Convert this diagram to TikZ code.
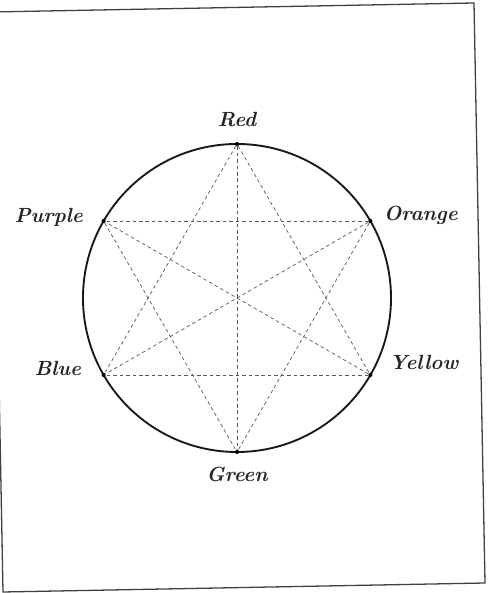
\documentclass[tikz,border=0pt]{standalone}
\usetikzlibrary{positioning}
\begin{document}
\begin{tikzpicture}[x=0.03cm, y=0.03cm,
    rim/.style={black!90, line width=1.6pt},
    chord/.style={black!65, line width=0.6pt, dash pattern=on 3pt off 2.5pt},
    hue/.style={font=\fontsize{17.5}{20}\selectfont\bfseries\itshape, text=black!85, inner sep=0pt},
    dot/.style={circle, fill=black, inner sep=0pt, minimum size=3.5pt}]
    \useasboundingbox (0,0) rectangle (491,593);
    \clip (0,0) rectangle (491,593);

    % Frame
    \draw[black!75, line width=1.1pt] (-8,581) -- (474,590) -- (485,10) -- (3,1) -- cycle;

    % Colour circle
    \coordinate (centre) at (237,295);
    \draw[rim] (centre) circle (154);

    % Six hues on the circle
    \node[dot] (red) at ([shift={(90:154)}]centre) {};
    \node[dot] (orange) at ([shift={(30:154)}]centre) {};
    \node[dot] (yellow) at ([shift={(-30:154)}]centre) {};
    \node[dot] (green) at ([shift={(-90:154)}]centre) {};
    \node[dot] (blue) at ([shift={(210:154)}]centre) {};
    \node[dot] (purple) at ([shift={(150:154)}]centre) {};

    % Chords
    \draw[chord] (red) -- (green);
    \draw[chord] (red) -- (yellow);
    \draw[chord] (red) -- (blue);
    \draw[chord] (orange) -- (purple);
    \draw[chord] (orange) -- (green);
    \draw[chord] (orange) -- (blue);
    \draw[chord] (yellow) -- (blue);
    \draw[chord] (yellow) -- (purple);
    \draw[chord] (purple) -- (green);

    % Names
    \node[hue, above=0.45cm of red] (redname) {Red};
    \node[hue, right=0.33cm of orange, yshift=0.18cm] (orangename) {Orange};
    \node[hue, right=0.5cm of yellow, yshift=0.38cm] (yellowname) {Yellow};
    \node[hue, below=0.38cm of green] (greenname) {Green};
    \node[hue, left=0.6cm of blue, yshift=0.2cm] (bluename) {Blue};
    \node[hue, left=0.55cm of purple, yshift=0.1cm] (purplename) {Purple};
\end{tikzpicture}
\end{document}
